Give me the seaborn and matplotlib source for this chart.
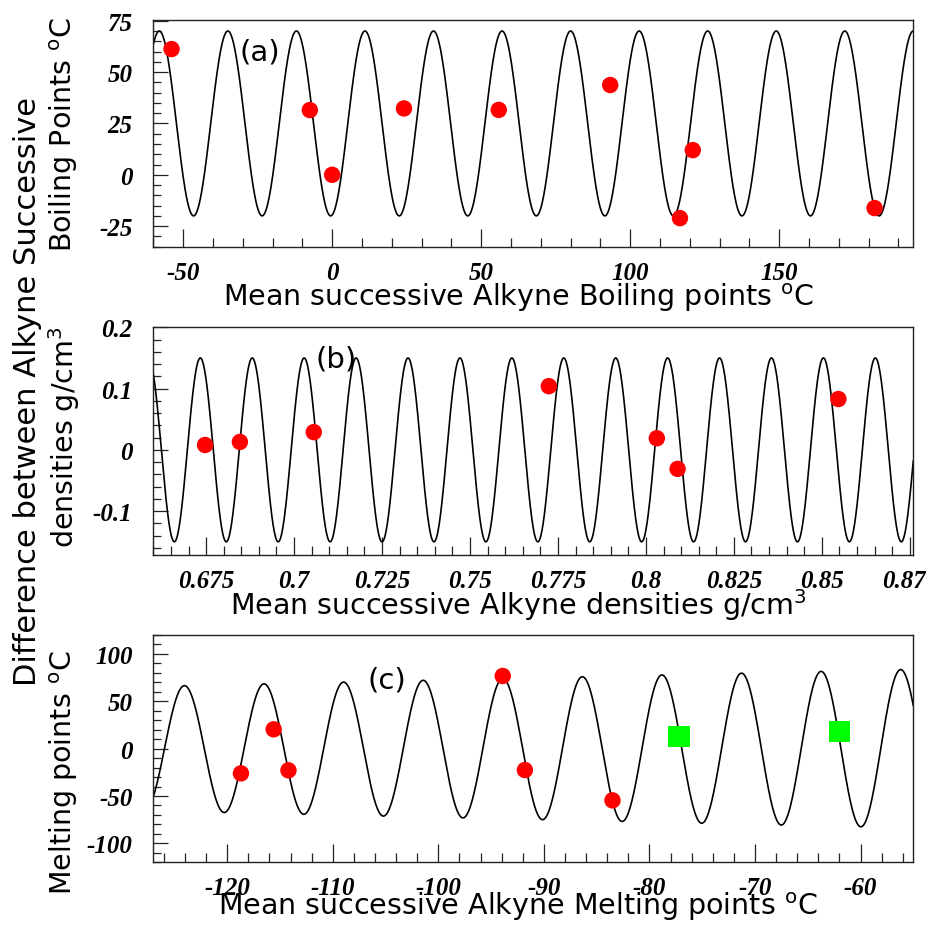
import numpy as np
import matplotlib
matplotlib.use("Agg")
import matplotlib.pyplot as plt
import seaborn as sns
from matplotlib.ticker import MultipleLocator

# ---------------- data ----------------
# (a) boiling points
bp_mean = [-53.9, -7.5, 0.0, 24.1, 55.9, 93.3, 116.7, 121.0, 182.0]
bp_diff = [61.2, 31.5, 0.0, 32.3, 31.6, 43.7, -21.1, 12.0, -16.2]
bp_fit = [25.0, 45.0, 0.0, 23.0, -58.0]          # offset, amp0, amp slope, period, peak x
bp_xticks = [-50, 0, 50, 100, 150]
bp_xlabels = ["-50", "0", "50", "100", "150"]
bp_yticks = [-25, 0, 25, 50, 75]
bp_ylabels = ["-25", "0", "25", "50", "75"]

# (b) densities
dens_mean = [0.6747, 0.6846, 0.7056, 0.7724, 0.8031, 0.8090, 0.8547]
dens_diff = [0.008, 0.013, 0.029, 0.104, 0.019, -0.031, 0.083]
dens_fit = [0.0, 0.15, 0.0, 0.014758, 0.67335]
dens_xticks = [0.675, 0.7, 0.725, 0.75, 0.775, 0.8, 0.825, 0.85, 0.875]
dens_xlabels = ["0.675", "0.7", "0.725", "0.75", "0.775", "0.8", "0.825", "0.85", "0.875"]
dens_yticks = [-0.1, 0.0, 0.1, 0.2]
dens_ylabels = ["-0.1", "0", "0.1", "0.2"]

# (c) melting points
mp_mean = [-118.7, -115.6, -114.2, -93.9, -91.8, -83.5]
mp_diff = [-26.1, 20.4, -22.9, 76.7, -22.6, -54.6]
mp_pred_mean = [-77.2, -62.0]
mp_pred_diff = [12.7, 18.0]
mp_fit = [0.0, 97.5, 0.25, 7.54, -124.06]
mp_xticks = [-120, -110, -100, -90, -80, -70, -60]
mp_xlabels = ["-120", "-110", "-100", "-90", "-80", "-70", "-60"]
mp_yticks = [-100, -50, 0, 50, 100]
mp_ylabels = ["-100", "-50", "0", "50", "100"]

# ---------------- style ----------------
sns.set_style("white")
plt.rcParams["font.family"] = ["DejaVu Sans"]
plt.rcParams["mathtext.fontset"] = "dejavusans"
plt.rcParams["text.color"] = "black"
plt.rcParams["axes.labelcolor"] = "black"
plt.rcParams["xtick.color"] = "black"
plt.rcParams["ytick.color"] = "black"

fig = plt.figure(figsize=(9.26, 9.28), dpi=100)

L, W, H = 0.1656, 0.8207, 0.2450
axA = fig.add_axes([L, 0.7331, W, 0.2446])
axB = fig.add_axes([L, 0.4012, W, H])
axC = fig.add_axes([L, 0.0697, W, H])

tickfont = dict(family="Liberation Serif", style="italic", weight="bold", size=18,
                color="black")
LABEL_FS = 20.5


def fit_curve(p, x):
    off, a0, a1, per, peak = p
    return off + (a0 + a1 * x) * np.cos(2 * np.pi * (x - peak) / per)


def panel(ax, xm, yd, fit, xlim, ylim, xt, xl, yt, yl, xmin, ymin, xlabel, ylabel,
          tag, tagpos, xlab_y, ylab_y):
    xs = np.linspace(xlim[0], xlim[1], 3000)
    sns.lineplot(x=xs, y=fit_curve(fit, xs), ax=ax, color="black", lw=1.2,
                 estimator=None, sort=False)
    sns.scatterplot(x=xm, y=yd, ax=ax, color="#ff0000", s=140, marker="o",
                    edgecolor="none", zorder=5)
    ax.set_xlim(*xlim)
    ax.set_ylim(*ylim)
    ax.set_xticks(xt)
    ax.set_xticklabels(xl, fontdict=tickfont)
    ax.set_yticks(yt)
    ax.set_yticklabels(yl, fontdict=tickfont)
    ax.xaxis.set_minor_locator(MultipleLocator(xmin))
    ax.yaxis.set_minor_locator(MultipleLocator(ymin))
    ax.tick_params(axis="both", which="both", direction="in", top=False, right=False,
                   bottom=True, left=True, width=0.9, color="#222222")
    ax.tick_params(axis="x", which="major", length=13, pad=10)
    ax.tick_params(axis="x", which="minor", length=6.5)
    ax.tick_params(axis="y", which="major", length=11, pad=15)
    ax.tick_params(axis="y", which="minor", length=5.5)
    for s in ax.spines.values():
        s.set_color("#222222")
        s.set_linewidth(1.0)
    ax.set_xlabel(xlabel, fontsize=LABEL_FS, color="black")
    ax.xaxis.label.set_verticalalignment("center")
    ax.xaxis.set_label_coords(0.48, xlab_y)
    ax.set_ylabel(ylabel, fontsize=LABEL_FS, color="black")
    ax.yaxis.label.set_verticalalignment("center")
    ax.yaxis.set_label_coords(-0.118, ylab_y)
    ax.text(tagpos[0], tagpos[1], tag, transform=ax.transAxes, fontsize=21,
            ha="center", va="center", color="black")


panel(axA, bp_mean, bp_diff, bp_fit, (-60, 195), (-35, 75.5), bp_xticks, bp_xlabels,
      bp_yticks, bp_ylabels, 10, 5,
      r"Mean successive Alkyne Boiling points $^{\rm o}$C",
      r"Boiling Points $^{\rm o}$C", "(a)", (0.140, 0.862), -0.222, 0.5)

panel(axB, dens_mean, dens_diff, dens_fit, (0.66, 0.876), (-0.171, 0.2), dens_xticks,
      dens_xlabels, dens_yticks, dens_ylabels, 0.005, 0.02,
      r"Mean successive Alkyne densities g/cm$^{3}$",
      r"densities g/cm$^{3}$", "(b)", (0.240, 0.865), -0.217, 0.522)

panel(axC, mp_mean, mp_diff, mp_fit, (-127, -55), (-120, 120), mp_xticks, mp_xlabels,
      mp_yticks, mp_ylabels, 2, 10,
      r"Mean successive Alkyne Melting points $^{\rm o}$C",
      r"Melting points $^{\rm o}$C", "(c)", (0.307, 0.806), -0.19, 0.40)

sns.scatterplot(x=mp_pred_mean, y=mp_pred_diff, ax=axC, color="#00ff00", s=240,
                marker="s", edgecolor="none", zorder=5)

fig.text(0.030, 0.5776, "Difference between Alkyne Successive", rotation=90,
         fontsize=22, ha="center", va="center", color="black")

fig.savefig("out.png", dpi=100)
